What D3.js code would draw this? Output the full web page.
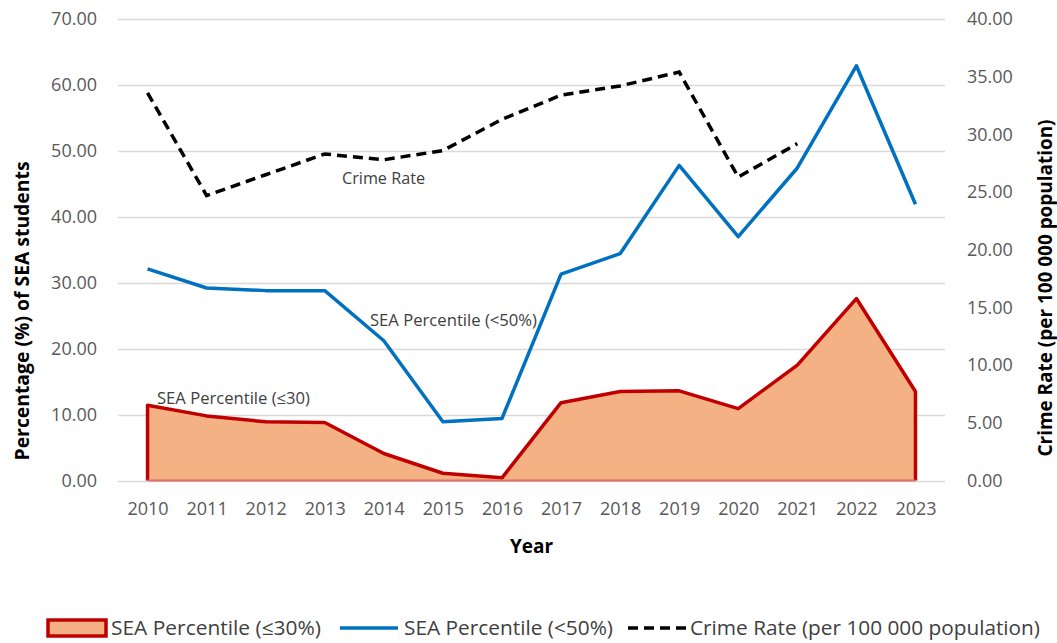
<!DOCTYPE html>
<html>
<head>
<meta charset="utf-8">
<script src="https://cdn.jsdelivr.net/npm/d3@7"></script>
<style>
  body { margin: 0; background: #fff; }
  svg { font-family: "Open Sans", sans-serif; }
</style>
</head>
<body>
<div id="wrapper"></div>
<script>
const years = ["2010","2011","2012","2013","2014","2015","2016","2017","2018","2019","2020","2021","2022","2023"];
const sea30 = [11.4, 9.8, 8.9, 8.8, 4.1, 1.1, 0.4, 11.8, 13.5, 13.6, 10.9, 17.5, 27.6, 13.5];
const sea50 = [32.1, 29.2, 28.8, 28.8, 21.2, 8.9, 9.4, 31.3, 34.4, 47.8, 37.0, 47.4, 62.9, 41.9];
const crimeRate = [33.6, 24.7, 26.5, 28.3, 27.8, 28.6, 31.3, 33.4, 34.2, 35.4, 26.3, 29.2, null, null];
const leftTicks = [0, 10, 20, 30, 40, 50, 60, 70];
const rightTicks = [0, 5, 10, 15, 20, 25, 30, 35, 40];

const dimensions = {
  width: 1057, height: 643,
  plot: { left: 118, right: 945, top: 19, bottom: 480.5 },
};

const svg = d3.select("#wrapper").append("svg")
  .attr("width", dimensions.width)
  .attr("height", dimensions.height);

const xScale = d3.scalePoint()
  .domain(years)
  .range([dimensions.plot.left, dimensions.plot.right])
  .padding(0.5);

const yLeft = d3.scaleLinear()
  .domain([0, 70])
  .range([dimensions.plot.bottom, dimensions.plot.top]);

const yRight = d3.scaleLinear()
  .domain([0, 40])
  .range([dimensions.plot.bottom, dimensions.plot.top]);

// gridlines
svg.append("g")
  .selectAll("line")
  .data(leftTicks)
  .join("line")
  .attr("x1", dimensions.plot.left)
  .attr("x2", dimensions.plot.right)
  .attr("y1", d => Math.round(yLeft(d)) + 0.5)
  .attr("y2", d => Math.round(yLeft(d)) + 0.5)
  .attr("stroke", "#d9d9d9")
  .attr("stroke-width", 1.3);

const styleTicks = g => g.selectAll("text")
  .attr("font-size", 18).attr("fill", "#595959").attr("font-family", "Open Sans");

// left axis
const leftAxis = svg.append("g")
  .attr("transform", `translate(${dimensions.plot.left - 18},0)`)
  .call(d3.axisLeft(yLeft).tickValues(leftTicks).tickFormat(d3.format(".2f")).tickSize(0));
leftAxis.select(".domain").remove();
styleTicks(leftAxis);

// right axis
const rightAxis = svg.append("g")
  .attr("transform", `translate(${dimensions.plot.right + 19},0)`)
  .call(d3.axisRight(yRight).tickValues(rightTicks).tickFormat(d3.format(".2f")).tickSize(0));
rightAxis.select(".domain").remove();
styleTicks(rightAxis);

// x axis
const xAxis = svg.append("g")
  .attr("transform", `translate(0,${dimensions.plot.bottom + 19})`)
  .call(d3.axisBottom(xScale).tickSize(0));
xAxis.select(".domain").remove();
styleTicks(xAxis);

// area SEA <=30
const areaGen = d3.area()
  .x((d, i) => xScale(years[i]))
  .y0(yLeft(0))
  .y1(d => yLeft(d));
svg.append("path")
  .attr("d", areaGen(sea30))
  .attr("fill", "#f4b183");

const outline = [[xScale(years[0]), yLeft(0)]]
  .concat(sea30.map((d, i) => [xScale(years[i]), yLeft(d)]))
  .concat([[xScale(years[years.length - 1]), yLeft(0)]]);
svg.append("path")
  .attr("d", d3.line()(outline))
  .attr("fill", "none")
  .attr("stroke", "#c00000")
  .attr("stroke-width", 3.5)
  .attr("stroke-linejoin", "round");
svg.append("line")
  .attr("x1", xScale(years[0]))
  .attr("x2", xScale(years[years.length - 1]))
  .attr("y1", yLeft(0)).attr("y2", yLeft(0))
  .attr("stroke", "#e06c6c")
  .attr("stroke-width", 2);

// SEA <50 line
const line50 = d3.line()
  .x((d, i) => xScale(years[i]))
  .y(d => yLeft(d));
svg.append("path")
  .attr("d", line50(sea50))
  .attr("fill", "none")
  .attr("stroke", "#0070c0")
  .attr("stroke-width", 3.5)
  .attr("stroke-linejoin", "round");

// crime rate
const lineCrime = d3.line()
  .defined(d => d !== null)
  .x((d, i) => xScale(years[i]))
  .y(d => yRight(d));
svg.append("path")
  .attr("d", lineCrime(crimeRate))
  .attr("fill", "none")
  .attr("stroke", "#000")
  .attr("stroke-width", 3.5)
  .attr("stroke-dasharray", "10,6");

// in-chart labels
const labels = [
  { text: "Crime Rate", x: 342, y: 184, w: 83 },
  { text: "SEA Percentile (<50%)", x: 370, y: 326, w: 167 },
  { text: "SEA Percentile (≤30)", x: 157, y: 404, w: 153 },
];
svg.append("g")
  .selectAll("text")
  .data(labels)
  .join("text")
  .attr("x", d => d.x)
  .attr("y", d => d.y)
  .attr("font-size", 16)
  .attr("fill", "#404040")
  .attr("textLength", d => d.w)
  .attr("lengthAdjust", "spacingAndGlyphs")
  .text(d => d.text);

// axis titles
svg.append("text")
  .attr("transform", `translate(29,311) rotate(-90)`)
  .attr("text-anchor", "middle")
  .attr("font-size", 19)
  .attr("font-weight", "bold")
  .attr("textLength", 299)
  .attr("lengthAdjust", "spacingAndGlyphs")
  .text("Percentage (%) of SEA students");

svg.append("text")
  .attr("transform", `translate(1052,288) rotate(-90)`)
  .attr("text-anchor", "middle")
  .attr("font-size", 19)
  .attr("font-weight", "bold")
  .attr("textLength", 337)
  .attr("lengthAdjust", "spacingAndGlyphs")
  .text("Crime Rate (per 100 000 population)");

svg.append("text")
  .attr("x", (dimensions.plot.left + dimensions.plot.right) / 2)
  .attr("y", 553)
  .attr("text-anchor", "middle")
  .attr("font-size", 19)
  .attr("font-weight", "bold")
  .text("Year");

// legend
const legend = svg.append("g").attr("transform", "translate(0,628)");
legend.append("rect")
  .attr("x", 48).attr("y", -8).attr("width", 58).attr("height", 16)
  .attr("fill", "#f4b183").attr("stroke", "#c00000").attr("stroke-width", 3.5);
legend.append("line")
  .attr("x1", 340).attr("x2", 398).attr("y1", 0).attr("y2", 0)
  .attr("stroke", "#0070c0").attr("stroke-width", 3.5);
legend.append("line")
  .attr("x1", 628).attr("x2", 686).attr("y1", 0).attr("y2", 0)
  .attr("stroke", "#000").attr("stroke-width", 3.5).attr("stroke-dasharray", "10,6");
const legendText = [
  { text: "SEA Percentile (≤30%)", x: 111, w: 210 },
  { text: "SEA Percentile (<50%)", x: 404, w: 209 },
  { text: "Crime Rate (per 100 000 population)", x: 690, w: 350 },
];
legend.selectAll("text.item")
  .data(legendText)
  .join("text")
  .attr("class", "item")
  .attr("x", d => d.x)
  .attr("y", 7)
  .attr("font-size", 20)
  .attr("fill", "#404040")
  .attr("textLength", d => d.w)
  .attr("lengthAdjust", "spacingAndGlyphs")
  .text(d => d.text);
</script>
</body>
</html>
